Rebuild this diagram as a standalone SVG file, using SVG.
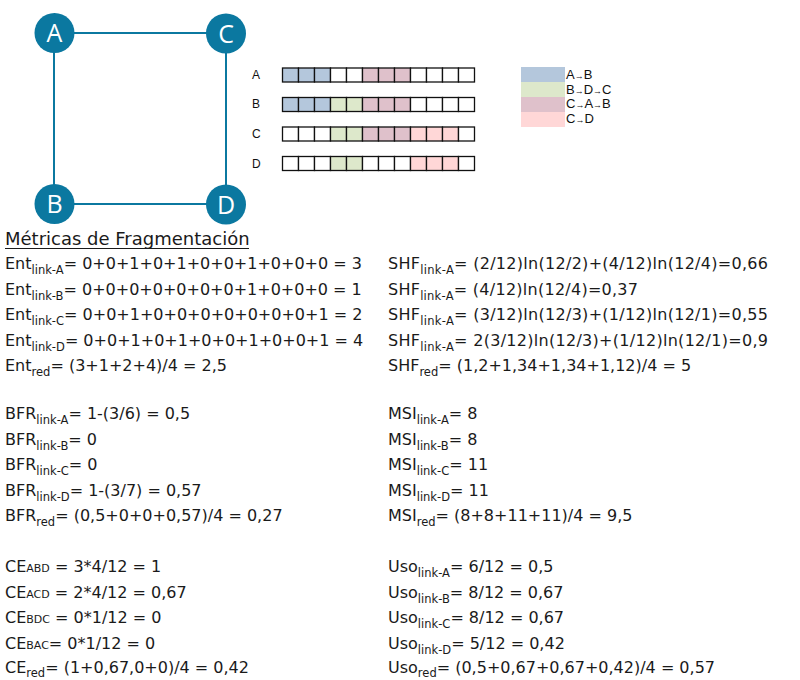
<svg xmlns="http://www.w3.org/2000/svg" width="800" height="680" viewBox="0 0 800 680">
<style>
.edge{stroke:#0B78A0;stroke-width:2;fill:none}
.node circle{fill:#0B78A0}
.node text{fill:#fff;font-family:"Open Sans","DejaVu Sans",sans-serif;font-size:25px;text-anchor:middle}
.cell{stroke:#111;stroke-width:1.3}
.w{fill:#fff}.b{fill:#B4C7DC}.g{fill:#DDE8CB}.m{fill:#DFC1CB}.p{fill:#FFD7D7}
.lab{font-family:"Liberation Sans",Arial,sans-serif;font-size:12px;fill:#111}
.leg{font-family:"Liberation Sans",Arial,sans-serif;font-size:13px;fill:#111}
.ar{font-size:9px}
.t{font-family:"DejaVu Sans",Verdana,sans-serif;font-size:16px;fill:#1a1a1a}
.ttl{font-size:18px}
.s{font-size:11.5px}
.sc{font-size:11px}
</style>
<g id="connectors">
<line class="edge" x1="54" y1="33" x2="226" y2="33"/>
<line class="edge" x1="54" y1="33" x2="54" y2="204"/>
<line class="edge" x1="54" y1="204" x2="226" y2="204"/>
<line class="edge" x1="226" y1="33" x2="226" y2="204"/>
</g>
<g id="node-A" class="node"><circle cx="54.5" cy="33" r="20"/><text x="54.5" y="42">A</text></g>
<g id="node-C" class="node"><circle cx="226" cy="33.5" r="20"/><text x="226" y="42.5">C</text></g>
<g id="node-B" class="node"><circle cx="54.5" cy="204" r="20"/><text x="54.5" y="213">B</text></g>
<g id="node-D" class="node"><circle cx="226" cy="204.5" r="20"/><text x="226" y="213.5">D</text></g>

<g id="slots">
<text class="lab" x="252" y="79">A</text>
<text class="lab" x="252" y="108">B</text>
<text class="lab" x="252" y="138">C</text>
<text class="lab" x="252" y="167.5">D</text>
<g id="row-A">
<rect class="cell b" x="282.5" y="68" width="16" height="14"/><rect class="cell b" x="298.5" y="68" width="16" height="14"/><rect class="cell b" x="314.5" y="68" width="16" height="14"/>
<rect class="cell w" x="330.5" y="68" width="16" height="14"/><rect class="cell w" x="346.5" y="68" width="16" height="14"/>
<rect class="cell m" x="362.5" y="68" width="16" height="14"/><rect class="cell m" x="378.5" y="68" width="16" height="14"/><rect class="cell m" x="394.5" y="68" width="16" height="14"/>
<rect class="cell w" x="410.5" y="68" width="16" height="14"/><rect class="cell w" x="426.5" y="68" width="16" height="14"/><rect class="cell w" x="442.5" y="68" width="16" height="14"/><rect class="cell w" x="458.5" y="68" width="16" height="14"/>
</g>
<g id="row-B">
<rect class="cell b" x="282.5" y="97.5" width="16" height="14"/><rect class="cell b" x="298.5" y="97.5" width="16" height="14"/><rect class="cell b" x="314.5" y="97.5" width="16" height="14"/>
<rect class="cell g" x="330.5" y="97.5" width="16" height="14"/><rect class="cell g" x="346.5" y="97.5" width="16" height="14"/>
<rect class="cell m" x="362.5" y="97.5" width="16" height="14"/><rect class="cell m" x="378.5" y="97.5" width="16" height="14"/><rect class="cell m" x="394.5" y="97.5" width="16" height="14"/>
<rect class="cell w" x="410.5" y="97.5" width="16" height="14"/><rect class="cell w" x="426.5" y="97.5" width="16" height="14"/><rect class="cell w" x="442.5" y="97.5" width="16" height="14"/><rect class="cell w" x="458.5" y="97.5" width="16" height="14"/>
</g>
<g id="row-C">
<rect class="cell w" x="282.5" y="127" width="16" height="14"/><rect class="cell w" x="298.5" y="127" width="16" height="14"/><rect class="cell w" x="314.5" y="127" width="16" height="14"/>
<rect class="cell g" x="330.5" y="127" width="16" height="14"/><rect class="cell g" x="346.5" y="127" width="16" height="14"/>
<rect class="cell m" x="362.5" y="127" width="16" height="14"/><rect class="cell m" x="378.5" y="127" width="16" height="14"/><rect class="cell m" x="394.5" y="127" width="16" height="14"/>
<rect class="cell p" x="410.5" y="127" width="16" height="14"/><rect class="cell p" x="426.5" y="127" width="16" height="14"/><rect class="cell p" x="442.5" y="127" width="16" height="14"/><rect class="cell w" x="458.5" y="127" width="16" height="14"/>
</g>
<g id="row-D">
<rect class="cell w" x="282.5" y="156.5" width="16" height="14"/><rect class="cell w" x="298.5" y="156.5" width="16" height="14"/><rect class="cell w" x="314.5" y="156.5" width="16" height="14"/>
<rect class="cell g" x="330.5" y="156.5" width="16" height="14"/><rect class="cell g" x="346.5" y="156.5" width="16" height="14"/>
<rect class="cell w" x="362.5" y="156.5" width="16" height="14"/><rect class="cell w" x="378.5" y="156.5" width="16" height="14"/><rect class="cell w" x="394.5" y="156.5" width="16" height="14"/>
<rect class="cell p" x="410.5" y="156.5" width="16" height="14"/><rect class="cell p" x="426.5" y="156.5" width="16" height="14"/><rect class="cell p" x="442.5" y="156.5" width="16" height="14"/><rect class="cell w" x="458.5" y="156.5" width="16" height="14"/>
</g>
</g>

<g id="legend">
<rect class="b" x="521" y="67" width="44" height="15"/>
<rect class="g" x="521" y="82" width="44" height="15"/>
<rect class="m" x="521" y="97" width="44" height="15"/>
<rect class="p" x="521" y="112" width="44" height="15"/>
<text class="leg" x="566" y="79">A<tspan class="ar">→</tspan>B</text>
<text class="leg" x="566" y="93.5">B<tspan class="ar">→</tspan>D<tspan class="ar">→</tspan>C</text>
<text class="leg" x="566" y="108">C<tspan class="ar">→</tspan>A<tspan class="ar">→</tspan>B</text>
<text class="leg" x="566" y="123">C<tspan class="ar">→</tspan>D</text>
</g>

<g id="metrics" class="t">
<text class="ttl" x="5" y="245">Métricas de Fragmentación</text>
<line x1="5" y1="248.5" x2="249" y2="248.5" stroke="#1a1a1a" stroke-width="1"/>
<text x="5" y="269">Ent<tspan class="s" dy="5">link-A</tspan><tspan dy="-5">= 0+0+1+0+1+0+0+1+0+0+0 = 3</tspan></text>
<text x="5" y="294.5">Ent<tspan class="s" dy="5">link-B</tspan><tspan dy="-5">= 0+0+0+0+0+0+0+1+0+0+0 = 1</tspan></text>
<text x="5" y="320">Ent<tspan class="s" dy="5">link-C</tspan><tspan dy="-5">= 0+0+1+0+0+0+0+0+0+0+1 = 2</tspan></text>
<text x="5" y="345.5">Ent<tspan class="s" dy="5">link-D</tspan><tspan dy="-5">= 0+0+1+0+1+0+0+1+0+0+1 = 4</tspan></text>
<text x="5" y="371">Ent<tspan class="s" dy="5">red</tspan><tspan dy="-5">= (3+1+2+4)/4 = 2,5</tspan></text>

<text x="388" y="269" textLength="380" lengthAdjust="spacing">SHF<tspan class="s" dy="5">link-A</tspan><tspan dy="-5">= (2/12)ln(12/2)+(4/12)ln(12/4)=0,66</tspan></text>
<text x="388" y="294.5" textLength="250" lengthAdjust="spacing">SHF<tspan class="s" dy="5">link-A</tspan><tspan dy="-5">= (4/12)ln(12/4)=0,37</tspan></text>
<text x="388" y="320" textLength="380" lengthAdjust="spacing">SHF<tspan class="s" dy="5">link-A</tspan><tspan dy="-5">= (3/12)ln(12/3)+(1/12)ln(12/1)=0,55</tspan></text>
<text x="388" y="345.5" textLength="380" lengthAdjust="spacing">SHF<tspan class="s" dy="5">link-A</tspan><tspan dy="-5">= 2(3/12)ln(12/3)+(1/12)ln(12/1)=0,9</tspan></text>
<text x="388" y="371">SHF<tspan class="s" dy="5">red</tspan><tspan dy="-5">= (1,2+1,34+1,34+1,12)/4 = 5</tspan></text>

<text x="5" y="419">BFR<tspan class="s" dy="5">link-A</tspan><tspan dy="-5">= 1-(3/6) = 0,5</tspan></text>
<text x="5" y="444.5">BFR<tspan class="s" dy="5">link-B</tspan><tspan dy="-5">= 0</tspan></text>
<text x="5" y="470">BFR<tspan class="s" dy="5">link-C</tspan><tspan dy="-5">= 0</tspan></text>
<text x="5" y="495.5">BFR<tspan class="s" dy="5">link-D</tspan><tspan dy="-5">= 1-(3/7) = 0,57</tspan></text>
<text x="5" y="521">BFR<tspan class="s" dy="5">red</tspan><tspan dy="-5">= (0,5+0+0+0,57)/4 = 0,27</tspan></text>

<text x="388" y="419">MSI<tspan class="s" dy="5">link-A</tspan><tspan dy="-5">= 8</tspan></text>
<text x="388" y="444.5">MSI<tspan class="s" dy="5">link-B</tspan><tspan dy="-5">= 8</tspan></text>
<text x="388" y="470">MSI<tspan class="s" dy="5">link-C</tspan><tspan dy="-5">= 11</tspan></text>
<text x="388" y="495.5">MSI<tspan class="s" dy="5">link-D</tspan><tspan dy="-5">= 11</tspan></text>
<text x="388" y="521">MSI<tspan class="s" dy="5">red</tspan><tspan dy="-5">= (8+8+11+11)/4 = 9,5</tspan></text>

<text x="5" y="572">CE<tspan class="sc">ABD</tspan> = 3*4/12 = 1</text>
<text x="5" y="597.5">CE<tspan class="sc">ACD</tspan> = 2*4/12 = 0,67</text>
<text x="5" y="623">CE<tspan class="sc">BDC</tspan> = 0*1/12 = 0</text>
<text x="5" y="648.5">CE<tspan class="sc">BAC</tspan>= 0*1/12 = 0</text>
<text x="5" y="672.5">CE<tspan class="s" dy="4.5">red</tspan><tspan dy="-4.5">= (1+0,67,0+0)/4 = 0,42</tspan></text>

<text x="388" y="572">Uso<tspan class="s" dy="5">link-A</tspan><tspan dy="-5">= 6/12 = 0,5</tspan></text>
<text x="388" y="597.5">Uso<tspan class="s" dy="5">link-B</tspan><tspan dy="-5">= 8/12 = 0,67</tspan></text>
<text x="388" y="623">Uso<tspan class="s" dy="5">link-C</tspan><tspan dy="-5">= 8/12 = 0,67</tspan></text>
<text x="388" y="648.5">Uso<tspan class="s" dy="5">link-D</tspan><tspan dy="-5">= 5/12 = 0,42</tspan></text>
<text x="388" y="672.5">Uso<tspan class="s" dy="4.5">red</tspan><tspan dy="-4.5">= (0,5+0,67+0,67+0,42)/4 = 0,57</tspan></text>
</g>
</svg>
